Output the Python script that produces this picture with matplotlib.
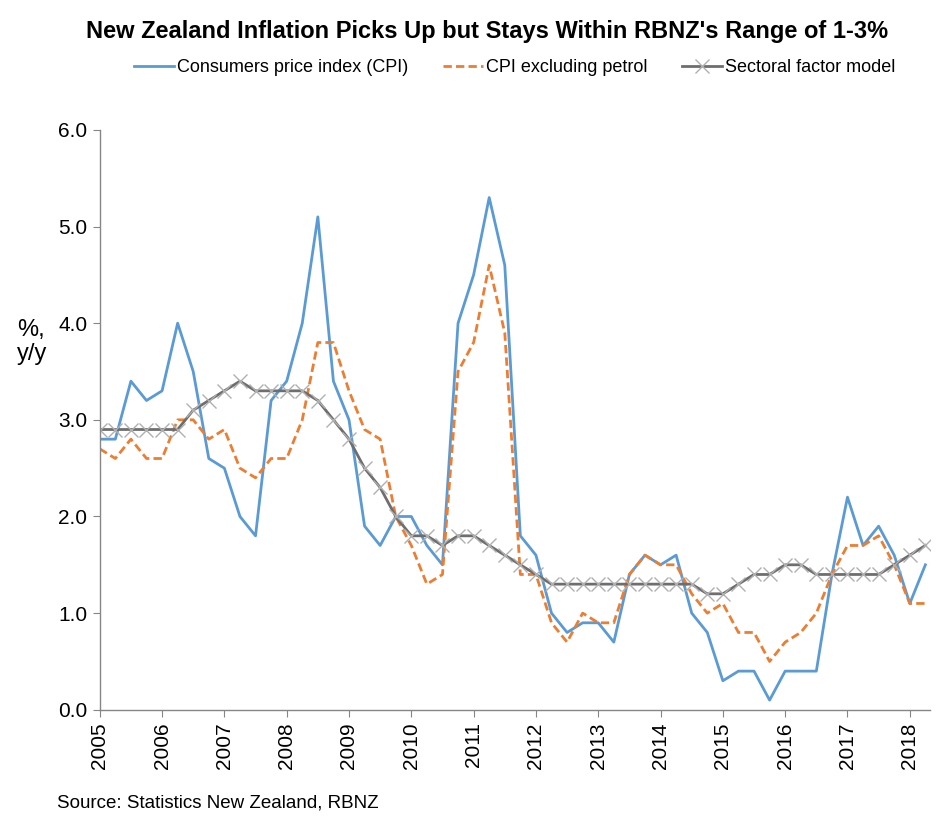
import matplotlib
matplotlib.use("Agg")
import matplotlib.pyplot as plt
import numpy as np

plt.rcParams['font.family'] = ['Liberation Sans', 'DejaVu Sans']

# quarterly, 2005 Q1 .. 2018 Q2
years = [str(y) for y in range(2005, 2019)]
cpi = [2.8, 2.8, 3.4, 3.2, 3.3, 4.0, 3.5, 2.6, 2.5, 2.0, 1.8, 3.2,
       3.4, 4.0, 5.1, 3.4, 3.0, 1.9, 1.7, 2.0, 2.0, 1.7, 1.5, 4.0,
       4.5, 5.3, 4.6, 1.8, 1.6, 1.0, 0.8, 0.9, 0.9, 0.7, 1.4, 1.6,
       1.5, 1.6, 1.0, 0.8, 0.3, 0.4, 0.4, 0.1, 0.4, 0.4, 0.4, 1.4,
       2.2, 1.7, 1.9, 1.6, 1.1, 1.5]
cpi_ex_petrol = [2.7, 2.6, 2.8, 2.6, 2.6, 3.0, 3.0, 2.8, 2.9, 2.5, 2.4, 2.6,
                 2.6, 3.0, 3.8, 3.8, 3.3, 2.9, 2.8, 2.0, 1.7, 1.3, 1.4, 3.5,
                 3.8, 4.6, 3.9, 1.4, 1.4, 0.9, 0.7, 1.0, 0.9, 0.9, 1.4, 1.6,
                 1.5, 1.5, 1.2, 1.0, 1.1, 0.8, 0.8, 0.5, 0.7, 0.8, 1.0, 1.4,
                 1.7, 1.7, 1.8, 1.5, 1.1, 1.1]
sectoral = [2.9, 2.9, 2.9, 2.9, 2.9, 2.9, 3.1, 3.2, 3.3, 3.4, 3.3, 3.3,
            3.3, 3.3, 3.2, 3.0, 2.8, 2.5, 2.3, 2.0, 1.8, 1.8, 1.7, 1.8,
            1.8, 1.7, 1.6, 1.5, 1.4, 1.3, 1.3, 1.3, 1.3, 1.3, 1.3, 1.3,
            1.3, 1.3, 1.3, 1.2, 1.2, 1.3, 1.4, 1.4, 1.5, 1.5, 1.4, 1.4,
            1.4, 1.4, 1.4, 1.5, 1.6, 1.7]

x = np.arange(len(cpi))

fig = plt.figure(figsize=(9.5, 8.38), dpi=100)
ax = fig.add_axes([0.105, 0.153, 0.874, 0.692])

l1, = ax.plot(x, cpi, color="#5B9BD5", lw=2, label="Consumers price index (CPI)")
l2, = ax.plot(x, cpi_ex_petrol, color="#ED7D31", lw=2, ls=(0, (3, 1.5)),
              label="CPI excluding petrol")
l3, = ax.plot(x, sectoral, color="#6E6E6E", lw=2, marker="x", ms=10,
              mec="#B0B0B0", mew=1, label="Sectoral factor model")

ax.set_xlim(0, 53.3)
ax.set_ylim(0, 6)
ax.set_yticks(np.arange(0, 6.01, 1.0))
ax.set_yticklabels(["%.1f" % v for v in np.arange(0, 6.01, 1.0)], fontsize=15)
ax.set_xticks(np.arange(0, len(cpi), 4))
ax.set_xticklabels(years, rotation=90, fontsize=15)
ax.tick_params(axis="both", direction="out", length=5, color="#868686", pad=4)

for s in ["top", "right"]:
    ax.spines[s].set_visible(False)
for s in ["left", "bottom"]:
    ax.spines[s].set_color("#868686")
    ax.spines[s].set_linewidth(1)

fig.text(0.513, 0.963, "New Zealand Inflation Picks Up but Stays Within RBNZ's Range of 1-3%",
         ha="center", va="center", fontsize=17, fontweight="bold")
fig.legend(handles=[l1, l2, l3], loc="center", bbox_to_anchor=(0.542, 0.919),
           ncol=3, frameon=False, fontsize=13, handlelength=2.2,
           handletextpad=0.2, columnspacing=1.9)

fig.text(0.018, 0.592, "%,\ny/y", fontsize=17, ha="left", va="center", linespacing=1.1)
fig.text(0.06, 0.042, "Source: Statistics New Zealand, RBNZ", fontsize=13.5, ha="left", va="center")

fig.savefig("out.png", dpi=100)
